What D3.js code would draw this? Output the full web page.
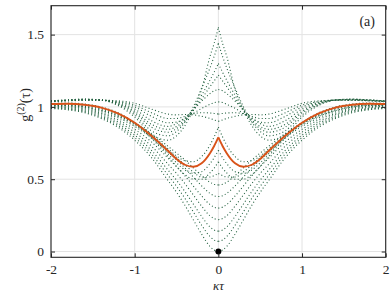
<!DOCTYPE html>
<html><head><meta charset="utf-8">
<script src="https://cdn.jsdelivr.net/npm/d3@7"></script>
<style>
body{margin:0;background:#fff}
svg{display:block}
svg text{font-family:"Liberation Serif","Times New Roman",Times,serif}
</style>
</head><body><svg id="c" width="390" height="296"></svg>
<script>
// half-axis grid of κτ (curves are symmetric about κτ = 0)
const tauGrid = [0,0.05,0.1,0.2,0.3,0.4,0.5,0.6,0.8,1.0,1.2,1.4,1.6,1.8,2.0];

// green dotted family, values g2 read at tauGrid
const g01 = [0,.01,.035,.12,.22,.32,.41,.49,.65,.77,.86,.92,.96,.98,.99];
const g02 = [.07,.079,.103,.182,.275,.368,.451,.526,.675,.788,.872,.928,.966,.985,.994];
const g03 = [.14,.149,.170,.243,.329,.415,.493,.562,.700,.805,.884,.937,.972,.989,.997];
const g04 = [.22,.228,.247,.314,.392,.470,.540,.603,.729,.825,.897,.946,.979,.994,1.001];
const g05 = [.30,.307,.325,.384,.454,.524,.587,.645,.758,.845,.911,.956,.986,1.0,1.005];
const g06 = [.38,.386,.402,.454,.516,.578,.634,.686,.787,.865,.925,.966,.992,1.005,1.009];
const g07 = [.46,.465,.479,.525,.579,.633,.681,.727,.816,.885,.938,.975,.999,1.010,1.013];
const g08 = [.54,.525,.515,.515,.55,.60,.65,.70,.80,.875,.935,.975,1.0,1.012,1.015];
const g09 = [.62,.577,.544,.50,.501,.532,.589,.658,.783,.883,.945,.985,1.005,1.012,1.012];
const g10 = [.70,.649,.608,.552,.541,.564,.613,.675,.791,.886,.95,.99,1.01,1.018,1.018];
const g11 = [.86,.793,.736,.656,.621,.628,.661,.710,.807,.893,.96,1.0,1.02,1.027,1.025];
const g12 = [.90,.91,.92,.935,.945,.948,.945,.95,.985,1.025,1.042,1.046,1.045,1.042,1.036];
const g13 = [.95,.955,.958,.96,.952,.935,.92,.92,.96,1.012,1.037,1.046,1.046,1.043,1.037];
const g14 = [1.035,1.03,1.018,.99,.955,.92,.895,.89,.935,1.0,1.033,1.047,1.048,1.044,1.038];
const g15 = [1.12,1.112,1.092,1.04,.98,.925,.885,.865,.905,.985,1.028,1.047,1.05,1.045,1.039];
const g16 = [1.22,1.18,1.14,1.055,.975,.91,.865,.845,.88,.97,1.024,1.048,1.051,1.046,1.04];
const g17 = [1.30,1.24,1.185,1.08,.98,.90,.85,.825,.86,.96,1.02,1.048,1.052,1.047,1.04];
const g18 = [1.44,1.35,1.27,1.13,1.0,.895,.83,.80,.835,.945,1.015,1.048,1.053,1.048,1.041];
const g19 = [1.55,1.44,1.35,1.12,.98,.87,.80,.77,.81,.93,1.01,1.048,1.054,1.049,1.042];
const greenSeries = [g01,g02,g03,g04,g05,g06,g07,g08,g09,g10,g11,g12,g13,g14,g15,g16,g17,g18,g19];

// highlighted orange curve
const orangeSeries = [0.79,0.73,0.68,0.61,0.586,0.60,0.64,0.695,0.80,0.89,0.955,0.995,1.015,1.022,1.02];

// black marker
const markerX = [0];
const markerY = [0];

const xTicks = [-2,-1,0,1,2];
const xTickLabels = ["-2","-1","0","1","2"];
const yTicks = [0,0.5,1,1.5];
const yTickLabels = ["0","0.5","1","1.5"];

const PL = 51, PR = 385.7, PT = 5.7, PB = 257.3;

const xs = d3.scaleLinear().domain([-2,2]).range([PL,PR]);
const ys = d3.scaleLinear().domain([-0.04,1.7]).range([PB,PT]);

const svg = d3.select("#c");
svg.append("defs").append("clipPath").attr("id","clip")
  .append("rect").attr("x",PL).attr("y",PT).attr("width",PR-PL).attr("height",PB-PT);

// grid
const grid = svg.append("g");
grid.selectAll(".gx").data(xTicks).join("line")
  .attr("x1",d=>xs(d)).attr("x2",d=>xs(d)).attr("y1",PT).attr("y2",PB)
  .attr("stroke","#e3e3e3").attr("stroke-width",1);
grid.selectAll(".gy").data(yTicks).join("line")
  .attr("x1",PL).attr("x2",PR).attr("y1",d=>ys(d)).attr("y2",d=>ys(d))
  .attr("stroke","#e3e3e3").attr("stroke-width",1);

function halves(vals){
  const rightHalf = tauGrid.map((t,i)=>[t, vals[i]]);
  const leftHalf = tauGrid.map((t,i)=>[-t, vals[i]]).reverse();
  return [leftHalf, rightHalf];
}
const lineGen = d3.line().x(d=>xs(d[0])).y(d=>ys(d[1])).curve(d3.curveMonotoneX);

const plot = svg.append("g").attr("clip-path","url(#clip)");
greenSeries.forEach(s=>{
  halves(s).forEach(h=>{
    plot.append("path").attr("d",lineGen(h)).attr("fill","none")
      .attr("stroke","#22603f").attr("stroke-width",1.1)
      .attr("stroke-dasharray","1,2.4");
  });
});
halves(orangeSeries).forEach(h=>{
  plot.append("path").attr("d",lineGen(h)).attr("fill","none")
    .attr("stroke","#D95319").attr("stroke-width",1.9).attr("stroke-linejoin","round");
});
plot.selectAll(".mk").data(markerX).join("circle")
  .attr("cx",d=>xs(d)).attr("cy",(d,i)=>ys(markerY[i])).attr("r",3).attr("fill","#000");

// axes
const ax = svg.append("g");
const axB = ax.append("g").attr("transform",`translate(0,${PB})`)
  .call(d3.axisBottom(xs).tickValues(xTicks).tickFormat((d,i)=>xTickLabels[i]).tickSize(-4).tickSizeOuter(0).tickPadding(7));
const axL = ax.append("g").attr("transform",`translate(${PL},0)`)
  .call(d3.axisLeft(ys).tickValues(yTicks).tickFormat((d,i)=>yTickLabels[i]).tickSize(-4).tickSizeOuter(0).tickPadding(7));
const axT = ax.append("g").attr("transform",`translate(0,${PT})`)
  .call(d3.axisTop(xs).tickValues(xTicks).tickFormat("").tickSize(-4).tickSizeOuter(0));
const axR = ax.append("g").attr("transform",`translate(${PR},0)`)
  .call(d3.axisRight(ys).tickValues(yTicks).tickFormat("").tickSize(-4).tickSizeOuter(0));
[axB,axL,axT,axR].forEach(g=>{
  g.attr("font-family",null);
  g.select(".domain").remove();
  g.selectAll("line").attr("stroke","#262626");
  g.selectAll("text").attr("font-size",13.5).attr("fill","#262626");
});
svg.append("rect").attr("x",PL).attr("y",PT).attr("width",PR-PL).attr("height",PB-PT)
  .attr("fill","none").attr("stroke","#262626").attr("stroke-width",1.1);

// labels
svg.append("text").attr("x",xs(0)).attr("y",289.5).attr("text-anchor","middle")
  .attr("font-size",13).attr("font-style","italic").attr("fill","#262626")
  .text("κτ");
const yl = svg.append("text").attr("transform","translate(30,105) rotate(-90)")
  .attr("text-anchor","middle").attr("font-size",14).attr("fill","#262626");
yl.append("tspan").text("g");
yl.append("tspan").attr("dy",-6).attr("font-size",10).text("(2)");
yl.append("tspan").attr("dy",6).text("(τ)");

svg.append("text").attr("x",375).attr("y",26).attr("text-anchor","end")
  .attr("font-size",14).attr("fill","#262626").text("(a)");
</script>
</body></html>
